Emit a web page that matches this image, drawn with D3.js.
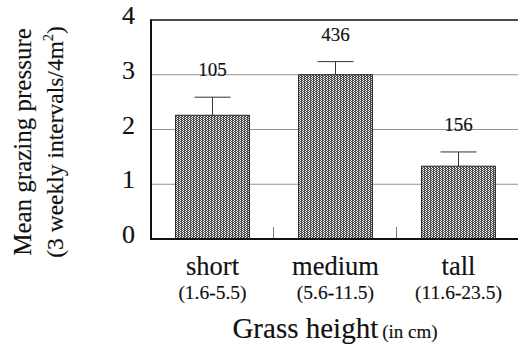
<!DOCTYPE html>
<html>
<head>
<meta charset="utf-8">
<script src="https://cdn.jsdelivr.net/npm/d3@7"></script>
<style>
  html, body { margin: 0; padding: 0; background: #fff; }
  svg { display: block; }
  text { font-family: "Liberation Serif", "DejaVu Serif", serif; fill: #111; stroke: #111; stroke-width: 0.15; }
</style>
</head>
<body>
<svg id="chart" width="518" height="348"></svg>
<script>
// Grass height classes and mean grazing pressure
const categories = ["short", "medium", "tall"];
const ranges = ["(1.6-5.5)", "(5.6-11.5)", "(11.6-23.5)"];
const means = [2.26, 3.0, 1.33];
const upperErrors = [2.59, 3.24, 1.59];
const sampleSizes = ["105", "436", "156"];
const yTicks = [0, 1, 2, 3, 4];

const svg = d3.select("#chart");
const plotLeft = 151, plotRight = 520, plotTop = 20, plotBottom = 239;

const x = d3.scaleBand().domain(categories).range([plotLeft, plotRight])
  .paddingInner(0.4).paddingOuter(0.2);
const y = d3.scaleLinear().domain([0, 4]).range([plotBottom, plotTop]);

// stipple fill for the bars
const defs = svg.append("defs");
const pat = defs.append("pattern").attr("id", "stipple")
  .attr("patternUnits", "userSpaceOnUse").attr("width", 3).attr("height", 2);
pat.append("rect").attr("width", 3).attr("height", 2).attr("fill", "#4e4e4e");
pat.append("rect").attr("x", 0).attr("y", 0).attr("width", 1).attr("height", 1).attr("fill", "#fff");
pat.append("rect").attr("x", 2).attr("y", 1).attr("width", 1).attr("height", 1).attr("fill", "#f2f2f2");

// horizontal gridlines
svg.append("g").selectAll("line").data(yTicks.filter(d => d > 0 && d < 4)).join("line")
  .attr("x1", plotLeft).attr("x2", 518)
  .attr("y1", d => y(d)).attr("y2", d => y(d))
  .attr("stroke", "#777").attr("stroke-width", 0.8);

// separators between categories
const bounds = categories.slice(1).map(c => x(c) - x.step() * x.paddingInner() / 2 - 0.5);
svg.append("g").selectAll("line").data(bounds).join("line")
  .attr("x1", d => d).attr("x2", d => d)
  .attr("y1", plotBottom - 12).attr("y2", plotBottom)
  .attr("stroke", "#777").attr("stroke-width", 1);

// bars
svg.append("g").selectAll("rect").data(categories).join("rect")
  .attr("x", d => x(d)).attr("width", x.bandwidth())
  .attr("y", (d, i) => y(means[i])).attr("height", (d, i) => y(0) - y(means[i]))
  .attr("fill", "url(#stipple)").attr("stroke", "#222").attr("stroke-width", 1);

// error bars (upper half only)
const eb = svg.append("g").attr("stroke", "#333").attr("stroke-width", 1);
categories.forEach((c, i) => {
  const cx = x(c) + x.bandwidth() / 2;
  eb.append("line").attr("x1", cx).attr("x2", cx)
    .attr("y1", y(means[i])).attr("y2", y(upperErrors[i]));
  eb.append("line").attr("x1", cx - 18).attr("x2", cx + 18)
    .attr("y1", y(upperErrors[i])).attr("y2", y(upperErrors[i]));
});

// sample sizes above the bars
svg.append("g").selectAll("text").data(categories).join("text")
  .attr("x", d => x(d) + x.bandwidth() / 2)
  .attr("y", (d, i) => y(upperErrors[i]) - 21)
  .attr("text-anchor", "middle").attr("font-size", 19)
  .text((d, i) => sampleSizes[i]);

// frame: left, top and bottom rules
svg.append("line").attr("x1", plotLeft).attr("x2", 518).attr("y1", plotTop).attr("y2", plotTop)
  .attr("stroke", "#111").attr("stroke-width", 1.5);
svg.append("line").attr("x1", plotLeft).attr("x2", plotLeft).attr("y1", plotTop - 0.75).attr("y2", plotBottom + 1)
  .attr("stroke", "#111").attr("stroke-width", 2);
svg.append("line").attr("x1", plotLeft - 1).attr("x2", 518).attr("y1", plotBottom).attr("y2", plotBottom)
  .attr("stroke", "#111").attr("stroke-width", 2.2);

// y tick labels
svg.append("g").selectAll("text").data(yTicks).join("text")
  .attr("x", 135).attr("y", d => y(d) + 4)
  .attr("text-anchor", "end").attr("font-size", 26)
  .text(d => d);

// category names and height ranges
svg.append("g").selectAll("text").data(categories).join("text")
  .attr("x", d => x(d) + x.bandwidth() / 2).attr("y", 275)
  .attr("text-anchor", "middle").attr("font-size", 26.5)
  .text(d => d);
svg.append("g").selectAll("text").data(ranges).join("text")
  .attr("x", (d, i) => x(categories[i]) + x.bandwidth() / 2).attr("y", 299)
  .attr("text-anchor", "middle").attr("font-size", 19.5)
  .text(d => d);

// x axis title
const xt = svg.append("text").attr("x", 335).attr("y", 338)
  .attr("text-anchor", "middle");
xt.append("tspan").attr("font-size", 29).text("Grass height");
xt.append("tspan").attr("font-size", 19).attr("dx", 4).text("(in cm)");

// y axis title
const yt = svg.append("text").attr("transform", "translate(0,142) rotate(-90)")
  .attr("text-anchor", "middle").attr("font-size", 25);
yt.append("tspan").attr("x", 0).attr("y", 31).text("Mean grazing pressure");
const l2 = yt.append("tspan").attr("x", 0).attr("y", 63).attr("font-size", 23.5);
l2.append("tspan").text("(3 weekly intervals/4m");
l2.append("tspan").attr("font-size", 14).attr("dy", -10).text("2");
l2.append("tspan").attr("dy", 10).text(")");
</script>
</body>
</html>
